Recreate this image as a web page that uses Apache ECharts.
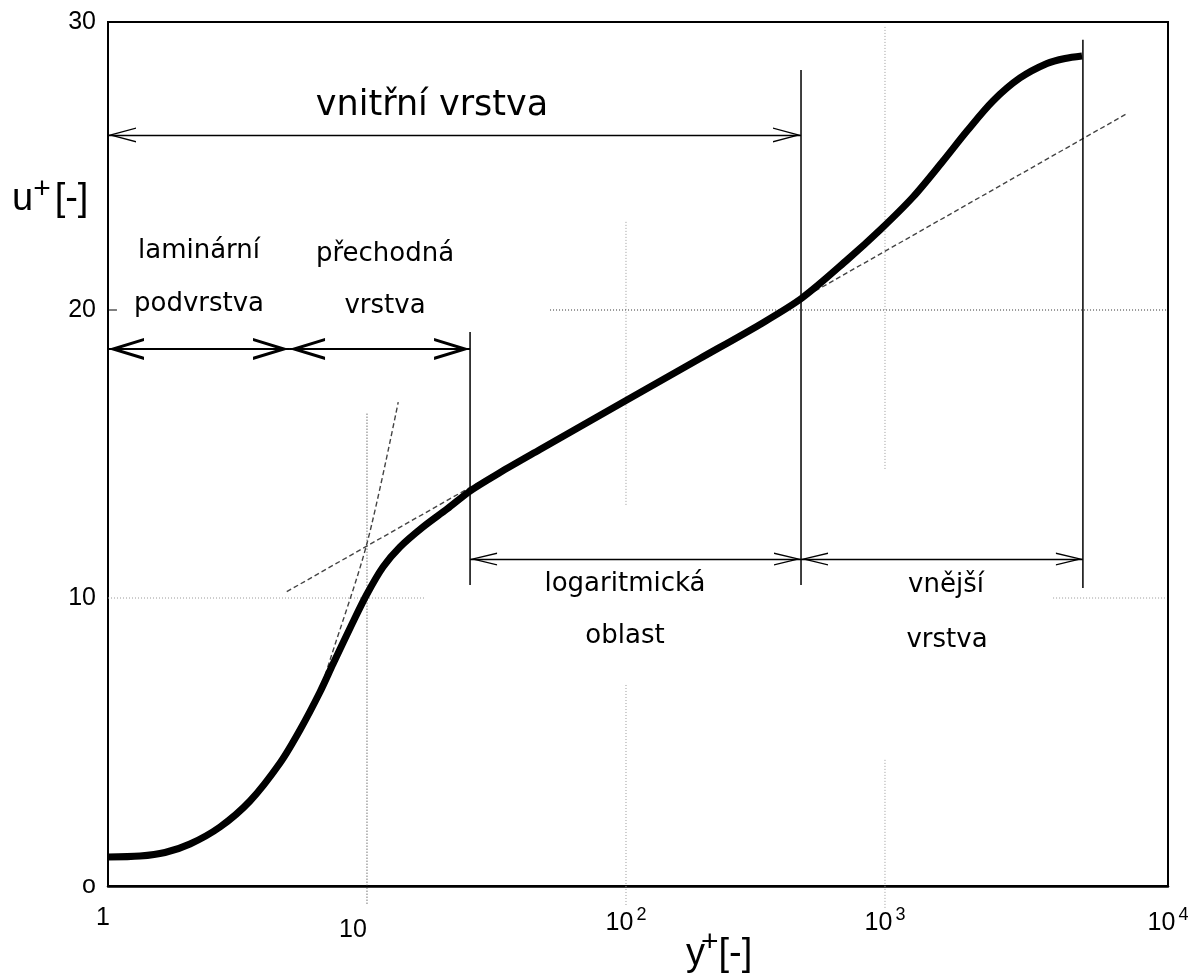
<!DOCTYPE html>
<html><head><meta charset="utf-8">
<script src="https://cdn.jsdelivr.net/npm/echarts@6/dist/echarts.min.js"></script>
<style>html,body{margin:0;padding:0;background:#fff}#c{width:1196px;height:976px}</style>
</head><body><div id="c"></div>
<script>
// ---------------- data ----------------
// velocity profile u+ (y+)
const curveYPlus = [1.0, 1.329, 1.66, 2.073, 2.707, 3.534, 4.615, 5.511, 6.584, 7.391, 8.829, 10, 11.53, 13.41, 16.45, 20.37, 24.99, 32.63, 46.56, 100, 193.1, 329.2, 478.1, 713.5, 956.6, 1283, 1675, 2073, 2612, 3321, 4222, 4955, 5764];
const curveU     = [1.007, 1.042, 1.163, 1.458, 2.049, 2.951, 4.271, 5.417, 6.736, 7.708, 9.167, 10.139, 11.076, 11.771, 12.465, 13.09, 13.715, 14.358, 15.156, 16.858, 18.316, 19.5, 20.417, 21.736, 22.778, 23.924, 25.174, 26.215, 27.257, 28.056, 28.559, 28.733, 28.819];
// viscous sublayer law (dashed)
const linLawYPlus = [6.6, 7.2, 10, 13.2];
const linLawU     = [6.8, 7.85, 11.9, 16.8];
// log law (dashed)
const logLawYPlus = [4.9, 8670];
const logLawU     = [10.22, 26.84];
// region boundaries (y+)
const bLaminar = 1, bBuffer = 5, bLog = 25, bInner = 474, bOuter = 5810;
// vertical boundary lines: [y+, u from, u to]
const boundaryLines = [[bLog, 10.45, 19.24], [bInner, 10.45, 28.33], [bOuter, 10.35, 29.38]];
// arrow levels (u+)
const innerArrowU = 26.08, sublayerArrowU = 18.65, outerArrowU = 11.35;
// partial dotted grid segments: [x1, y1, x2, y2]
const gridLight = [[100, 23.06, 100, 13.2], [100, 6.98, 100, -0.66], [1000, 29.83, 1000, 14.44], [1000, 4.38, 1000, -0.83], [1, 10, 16.7, 10], [4456, 10, 12050, 10]];
const gridDark  = [[10, 16.4, 10, -0.66], [50.9, 20, 12380, 20]];
const tick20 = [[0.915, 20], [1.083, 20]];
// axes
const X_MIN = 1, X_MAX = 12380, Y_MIN = 0, Y_MAX = 30, Y_STEP = 10;
const xTickLabels = {0: '{o|1}', 1: '{t|10}', 2: '{b|10}{s|2}', 3: '{b|10}{s|3}'};
const xEdgeLabel = '{b|10}{s|4}';
const yTickLabels = {0: 'o', 10: '10', 20: '20', 30: '30'};
// texts
const regionTexts = [
  ['vnitřní vrstva', 432, 106, 35],
  ['laminární', 199, 251, 26], ['podvrstva', 199, 304, 26],
  ['přechodná', 385, 254, 26], ['vrstva', 385, 306, 26],
  ['logaritmická', 625, 584, 26], ['oblast', 625, 636, 26],
  ['vnější', 946, 585, 26], ['vrstva', 947, 640, 26]
];

// ---------------- chart ----------------
const chart = echarts.init(document.getElementById('c'), null, {renderer: 'canvas', width: 1196, height: 976});
const TICKF = 'Liberation Sans, Arial, sans-serif';
const TEXTF = 'DejaVu Sans, sans-serif';

function chev(W, H, t) {
  const L = Math.sqrt(W * W / 4 + H * H);
  const dx = t * L / H, ti = t * L / (W / 2);
  return 'path://M' + (W / 2) + ',0 L' + W + ',' + H + ' L' + (W - dx) + ',' + H + ' L' + (W / 2) + ',' + ti + ' L' + dx + ',' + H + ' L0,' + H + ' Z';
}
function arrowSeries(pairs, u, W, H, t, lw) {
  const sym = chev(W, H, t);
  return {
    type: 'line', data: [], silent: true,
    markLine: {
      silent: true, animation: false,
      symbol: [sym, sym], symbolSize: [W, H], symbolOffset: [[0, H / 2], [0, H / 2]],
      label: {show: false},
      emphasis: {disabled: true},
      lineStyle: {color: '#000', width: lw, type: 'solid'},
      data: pairs.map(p => [{coord: [p[0], u]}, {coord: [p[1], u]}])
    }
  };
}
function segSeries(segs, color, width, type) {
  return segs.map(s => ({
    type: 'line', data: [[s[0], s[1]], [s[2], s[3]]], clip: false, silent: true,
    showSymbol: false, symbol: 'none',
    lineStyle: {color: color, width: width, type: type}, z: 1
  }));
}
function fmtX(v) {
  const e = Math.log10(v);
  const r = Math.round(e);
  if (Math.abs(e - r) < 1e-6 && xTickLabels[r] !== undefined) return xTickLabels[r];
  if (v >= X_MAX * 0.999) return xEdgeLabel;
  return '';
}

const series = [].concat(
  segSeries(gridLight, '#9a9a9a', 1, [1, 2]),
  segSeries(gridDark, '#333', 1, [1, 2]),
  [{type: 'line', data: tick20, clip: false, silent: true, symbol: 'none', lineStyle: {color: '#000', width: 1}}],
  boundaryLines.map(b => ({
    type: 'line', data: [[b[0], b[1]], [b[0], b[2]]], silent: true, symbol: 'none',
    lineStyle: {color: '#000', width: 1.5}, z: 3
  })),
  [{
    type: 'line', data: logLawYPlus.map((x, i) => [x, logLawU[i]]), silent: true, symbol: 'none',
    lineStyle: {color: '#444', width: 1.4, type: [5, 3]}, z: 2
  }, {
    type: 'line', data: linLawYPlus.map((x, i) => [x, linLawU[i]]), silent: true, symbol: 'none', smooth: 0.3,
    lineStyle: {color: '#444', width: 1.4, type: [5, 3]}, z: 2
  }, {
    type: 'line', data: curveYPlus.map((x, i) => [x, curveU[i]]), silent: true, symbol: 'none',
    smooth: 0.3,
    lineStyle: {color: '#000', width: 7, cap: 'butt', join: 'round'}, z: 5
  }],
  [arrowSeries([[bLaminar, bInner]], innerArrowU, 15, 28, 1.3, 1.3)],
  [arrowSeries([[bLaminar, bBuffer], [bBuffer, bLog]], sublayerArrowU, 22, 36, 3, 2)],
  [arrowSeries([[bLog, bInner], [bInner, bOuter]], outerArrowU, 13, 27, 1.3, 1.3)]
);

const graphic = regionTexts.map(t => ({
  type: 'text', x: t[1], y: t[2], silent: true,
  style: {text: t[0], fontFamily: TEXTF, fontSize: t[3], fill: '#000', align: 'center', verticalAlign: 'middle'}
})).concat([
  {type: 'text', x: 12, y: 200, silent: true,
   style: {text: '{u|u}{p|+}{b|[-]}', align: 'left', verticalAlign: 'middle', fill: '#000',
     rich: {u: {fontFamily: TICKF, fontSize: 38, fill: '#000'},
            p: {fontFamily: TICKF, fontSize: 30, fill: '#000', padding: [0, 4, 20, 0]},
            b: {fontFamily: TICKF, fontSize: 38, fill: '#000'}}}},
  {type: 'text', x: 686, y: 955, silent: true,
   style: {text: '{u|y}{p|+}{b|[-]}', align: 'left', verticalAlign: 'middle', fill: '#000',
     rich: {u: {fontFamily: TICKF, fontSize: 38, fill: '#000'},
            p: {fontFamily: TICKF, fontSize: 30, fill: '#000', padding: [0, 0, 24, -4]},
            b: {fontFamily: TICKF, fontSize: 38, fill: '#000'}}}}
]);

chart.setOption({
  animation: false,
  backgroundColor: '#fff',
  grid: {left: 108, top: 22, width: 1060, height: 864, show: true, borderColor: '#000', borderWidth: 2, containLabel: false, outerBoundsMode: 'none'},
  xAxis: {
    type: 'log', logBase: 10, min: X_MIN, max: X_MAX,
    axisLine: {show: true, onZero: false, lineStyle: {color: '#000', width: 2.5}},
    axisTick: {show: false}, splitLine: {show: false}, minorTick: {show: false},
    axisLabel: {
      show: true, margin: 20, color: '#000', fontFamily: TICKF, fontSize: 25, formatter: fmtX,
      showMinLabel: true, showMaxLabel: true, hideOverlap: false,
      rich: {b: {fontFamily: TICKF, fontSize: 25, color: '#000'},
             o: {fontFamily: TICKF, fontSize: 25, color: '#000', padding: [0, 10, 0, 0]},
             t: {fontFamily: TICKF, fontSize: 25, color: '#000', padding: [12, 28, 0, 0]},
             s: {fontFamily: TICKF, fontSize: 18, color: '#000', padding: [0, 0, 16, 3]}}
    }
  },
  yAxis: {
    type: 'value', min: Y_MIN, max: Y_MAX, interval: Y_STEP,
    axisLine: {show: true, onZero: false, lineStyle: {color: '#000', width: 1.5}},
    axisTick: {show: false}, splitLine: {show: false},
    axisLabel: {margin: 12, color: '#000', fontFamily: TICKF, fontSize: 25, formatter: v => yTickLabels[v] !== undefined ? yTickLabels[v] : ''}
  },
  series: series,
  graphic: graphic
});
</script></body></html>
